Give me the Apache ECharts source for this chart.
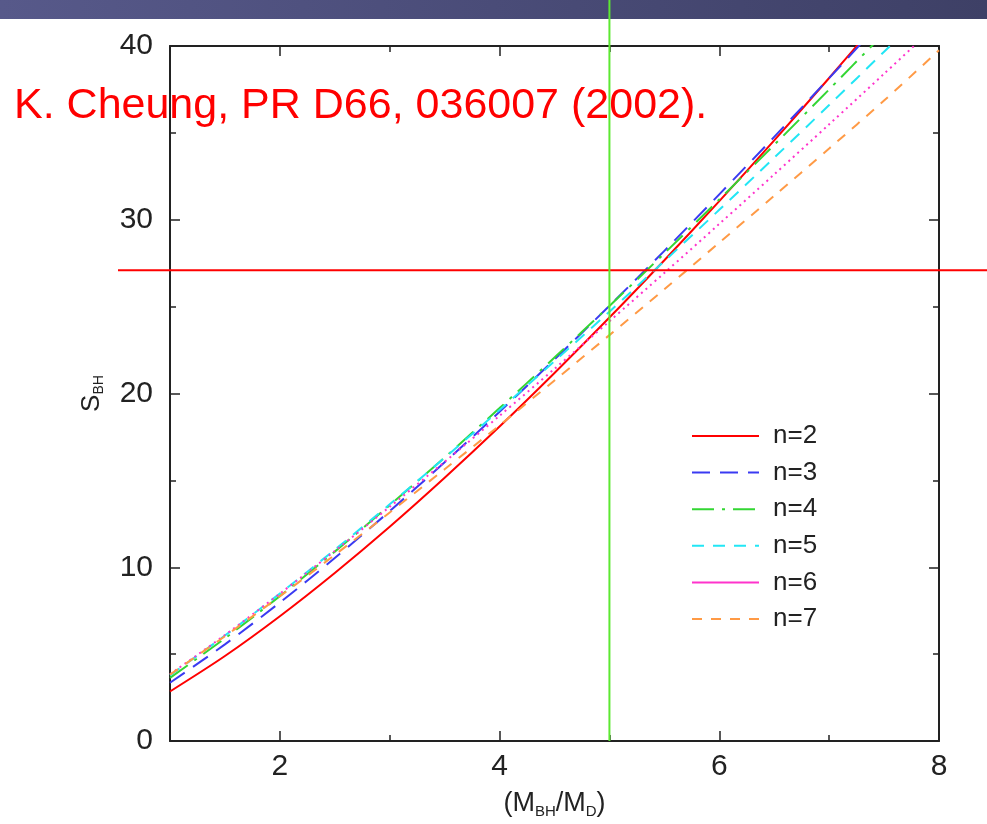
<!DOCTYPE html>
<html>
<head>
<meta charset="utf-8">
<script src="https://cdn.jsdelivr.net/npm/echarts@6/dist/echarts.min.js"></script>
<style>
  html, body { margin: 0; padding: 0; background: #ffffff; }
  #chart { width: 987px; height: 824px; }
</style>
</head>
<body>
<div id="chart"></div>
<script>
// Black-hole entropy S_BH versus M_BH/M_D for n extra dimensions
const massRatio = [1, 1.5, 2, 2.5, 3, 3.5, 4, 4.5, 5, 5.5, 6, 6.5, 7, 7.5, 8];

const sN2 = [2.85, 4.89, 7.18, 9.67, 12.33, 15.15, 18.10, 21.18, 24.37, 27.67, 31.07, 34.57, 38.16, 41.84];
const sN3 = [3.35, 5.56, 7.97, 10.53, 13.23, 16.04, 18.95, 21.96, 25.05, 28.21, 31.46, 34.77, 38.15, 41.58];
const sN4 = [3.63, 5.91, 8.34, 10.90, 13.57, 16.32, 19.16, 22.07, 25.04, 28.07, 31.17, 34.31, 37.50, 40.73];
const sN5 = [3.78, 6.07, 8.49, 11.01, 13.62, 16.30, 19.05, 21.86, 24.71, 27.62, 30.57, 33.57, 36.60, 39.67, 42.77];
const sN6 = [3.84, 6.10, 8.48, 10.94, 13.48, 16.07, 18.72, 21.42, 24.16, 26.94, 29.76, 32.61, 35.49, 38.40, 41.34];
const sN7 = [3.82, 6.03, 8.33, 10.71, 13.15, 15.64, 18.17, 20.75, 23.36, 26.00, 28.68, 31.38, 34.10, 36.86, 39.75];

const seriesNames = ['n=2', 'n=3', 'n=4', 'n=5', 'n=6', 'n=7'];
const seriesValues = [sN2, sN3, sN4, sN5, sN6, sN7];
const seriesColors = ['#ff0000', '#3a3af2', '#33d633', '#22e6f5', '#ff33cc', '#ff9a45'];
const seriesDash = ['solid', [18, 10], [22, 8, 3, 8], [12, 9], [2, 4], [10, 9]];

const xMajorTicks = [2, 4, 6, 8];
const markerX = 5;      // vertical reference line
const markerY = 27.1;   // horizontal reference line
const citation = 'K. Cheung, PR D66, 036007 (2002).';

const FONT = "'Liberation Sans', Arial, sans-serif";
const INK = '#222222';

const chart = echarts.init(document.getElementById('chart'), null, { renderer: 'canvas' });

function pairs(values) {
  return values.map((v, i) => [massRatio[i], v]);
}

const frameLine = { show: true, lineStyle: { color: INK, width: 2 } };

function xAxisDef(position, opts) {
  return Object.assign({
    type: 'value', min: 1, max: 8, interval: 1, position: position,
    axisLine: frameLine, splitLine: { show: false },
    axisLabel: { show: false },
    axisTick: { show: true, inside: true, length: 6, lineStyle: { color: INK, width: 1.5 } }
  }, opts || {});
}

// One legend block per curve so each row sits at its own height
const legends = seriesNames.map((name, i) => ({
  show: true,
  left: 691,
  top: 423 + i * 36.6,
  padding: 0,
  itemWidth: 67,
  itemHeight: 26,
  itemStyle: { opacity: 0, borderWidth: 0 },
  lineStyle: { width: 2 },
  data: [i === 4 ? { name: name, lineStyle: { type: 'solid' } } : name],
  textStyle: { fontSize: 26, fontFamily: FONT, color: INK, lineHeight: 26, padding: [0, 0, 0, 9] },
  selectedMode: false
}));

const option = {
  backgroundColor: '#ffffff',
  animation: false,
  grid: { left: 170, right: 48, top: 46, bottom: 83, show: false },
  legend: legends,
  xAxis: [
    xAxisDef('bottom', {
      name: '(M{s|BH}/M{s|D})',
      nameLocation: 'middle',
      nameGap: 48,
      nameTextStyle: {
        fontSize: 27, fontFamily: FONT, color: INK,
        rich: { s: { fontSize: 15, fontFamily: FONT, color: INK, padding: [15, 0, 0, 0] } }
      },
      axisLabel: {
        show: true, margin: 11, fontSize: 30, fontFamily: FONT, color: INK,
        formatter: v => (xMajorTicks.indexOf(v) >= 0 ? String(v) : '')
      }
    }),
    xAxisDef('bottom', {
      axisLine: { show: false },
      axisTick: { show: true, inside: true, length: 10, customValues: xMajorTicks, lineStyle: { color: INK, width: 1.5 } }
    }),
    xAxisDef('top'),
    xAxisDef('top', {
      axisLine: { show: false },
      axisTick: { show: true, inside: true, length: 10, customValues: xMajorTicks, lineStyle: { color: INK, width: 1.5 } }
    })
  ],
  yAxis: [
    {
      type: 'value', min: 0, max: 40, interval: 10, position: 'left',
      name: 'S{s|BH}',
      nameLocation: 'middle',
      nameRotate: 90,
      nameGap: 64,
      nameTextStyle: {
        fontSize: 26, fontFamily: FONT, color: INK,
        rich: { s: { fontSize: 14, fontFamily: FONT, color: INK, padding: [14, 0, 0, 0] } }
      },
      axisLine: frameLine, splitLine: { show: false },
      axisLabel: { show: true, margin: 17, fontSize: 30, fontFamily: FONT, color: INK },
      axisTick: { show: true, inside: true, length: 10, lineStyle: { color: INK, width: 1.5 } },
      minorTick: { show: true, splitNumber: 2, length: 6, lineStyle: { color: INK, width: 1.5 } }
    },
    {
      type: 'value', min: 0, max: 40, interval: 10, position: 'right',
      axisLine: frameLine, splitLine: { show: false },
      axisLabel: { show: false },
      axisTick: { show: true, inside: true, length: 10, lineStyle: { color: INK, width: 1.5 } },
      minorTick: { show: true, splitNumber: 2, length: 6, lineStyle: { color: INK, width: 1.5 } }
    }
  ],
  series: seriesNames.map((name, i) => ({
    name: name,
    type: 'line',
    xAxisIndex: 0,
    yAxisIndex: 0,
    data: pairs(seriesValues[i]),
    smooth: 0.3,
    symbol: 'none',
    clip: true,
    color: seriesColors[i],
    lineStyle: { color: seriesColors[i], width: 2, type: seriesDash[i] },
    z: 5
  }))
};

chart.setOption(option);

// Reference lines and annotations placed through the axis scales
const pMarker = chart.convertToPixel({ xAxisIndex: 0, yAxisIndex: 0 }, [markerX, markerY]);
const pOrigin = chart.convertToPixel({ xAxisIndex: 0, yAxisIndex: 0 }, [1, 0]);

chart.setOption({
  graphic: [
    {
      id: 'banner', type: 'rect', z: 1,
      shape: { x: 0, y: 0, width: 987, height: 19 },
      style: {
        fill: new echarts.graphic.LinearGradient(0, 0, 1, 0, [
          { offset: 0, color: '#57598a' },
          { offset: 0.5, color: '#4a4c78' },
          { offset: 1, color: '#3e4066' }
        ])
      }
    },
    {
      id: 'citation', type: 'text', z: 2,
      style: {
        x: 14, y: 106, text: citation, fill: '#ff0000',
        font: '43px ' + FONT, verticalAlign: 'middle', align: 'left'
      }
    },
    {
      id: 'hline', type: 'line', z: 100,
      shape: { x1: 118, y1: pMarker[1], x2: 987, y2: pMarker[1] },
      style: { stroke: '#ff0000', lineWidth: 2 }
    },
    {
      id: 'vline', type: 'line', z: 100,
      shape: { x1: pMarker[0], y1: 0, x2: pMarker[0], y2: pOrigin[1] },
      style: { stroke: '#5de832', lineWidth: 2 }
    }
  ]
});
</script>
</body>
</html>
